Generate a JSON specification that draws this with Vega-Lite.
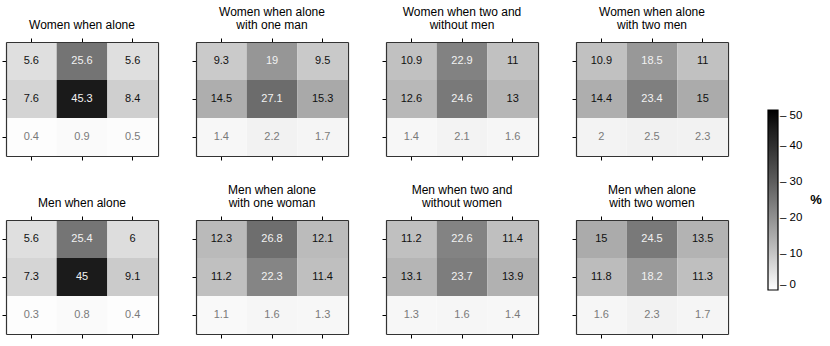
{
"$schema": "https://vega.github.io/schema/vega-lite/v6.json",
"padding": {"left": 1, "top": 5, "right": 0, "bottom": 0},
"background": "white",
"data": {"values": [
{"p":1,"c":1,"r":1,"v":5.6},{"p":1,"c":2,"r":1,"v":25.6},{"p":1,"c":3,"r":1,"v":5.6},
{"p":1,"c":1,"r":2,"v":7.6},{"p":1,"c":2,"r":2,"v":45.3},{"p":1,"c":3,"r":2,"v":8.4},
{"p":1,"c":1,"r":3,"v":0.4},{"p":1,"c":2,"r":3,"v":0.9},{"p":1,"c":3,"r":3,"v":0.5},
{"p":2,"c":1,"r":1,"v":9.3},{"p":2,"c":2,"r":1,"v":19},{"p":2,"c":3,"r":1,"v":9.5},
{"p":2,"c":1,"r":2,"v":14.5},{"p":2,"c":2,"r":2,"v":27.1},{"p":2,"c":3,"r":2,"v":15.3},
{"p":2,"c":1,"r":3,"v":1.4},{"p":2,"c":2,"r":3,"v":2.2},{"p":2,"c":3,"r":3,"v":1.7},
{"p":3,"c":1,"r":1,"v":10.9},{"p":3,"c":2,"r":1,"v":22.9},{"p":3,"c":3,"r":1,"v":11},
{"p":3,"c":1,"r":2,"v":12.6},{"p":3,"c":2,"r":2,"v":24.6},{"p":3,"c":3,"r":2,"v":13},
{"p":3,"c":1,"r":3,"v":1.4},{"p":3,"c":2,"r":3,"v":2.1},{"p":3,"c":3,"r":3,"v":1.6},
{"p":4,"c":1,"r":1,"v":10.9},{"p":4,"c":2,"r":1,"v":18.5},{"p":4,"c":3,"r":1,"v":11},
{"p":4,"c":1,"r":2,"v":14.4},{"p":4,"c":2,"r":2,"v":23.4},{"p":4,"c":3,"r":2,"v":15},
{"p":4,"c":1,"r":3,"v":2},{"p":4,"c":2,"r":3,"v":2.5},{"p":4,"c":3,"r":3,"v":2.3},
{"p":5,"c":1,"r":1,"v":5.6},{"p":5,"c":2,"r":1,"v":25.4},{"p":5,"c":3,"r":1,"v":6},
{"p":5,"c":1,"r":2,"v":7.3},{"p":5,"c":2,"r":2,"v":45},{"p":5,"c":3,"r":2,"v":9.1},
{"p":5,"c":1,"r":3,"v":0.3},{"p":5,"c":2,"r":3,"v":0.8},{"p":5,"c":3,"r":3,"v":0.4},
{"p":6,"c":1,"r":1,"v":12.3},{"p":6,"c":2,"r":1,"v":26.8},{"p":6,"c":3,"r":1,"v":12.1},
{"p":6,"c":1,"r":2,"v":11.2},{"p":6,"c":2,"r":2,"v":22.3},{"p":6,"c":3,"r":2,"v":11.4},
{"p":6,"c":1,"r":3,"v":1.1},{"p":6,"c":2,"r":3,"v":1.6},{"p":6,"c":3,"r":3,"v":1.3},
{"p":7,"c":1,"r":1,"v":11.2},{"p":7,"c":2,"r":1,"v":22.6},{"p":7,"c":3,"r":1,"v":11.4},
{"p":7,"c":1,"r":2,"v":13.1},{"p":7,"c":2,"r":2,"v":23.7},{"p":7,"c":3,"r":2,"v":13.9},
{"p":7,"c":1,"r":3,"v":1.3},{"p":7,"c":2,"r":3,"v":1.6},{"p":7,"c":3,"r":3,"v":1.4},
{"p":8,"c":1,"r":1,"v":15},{"p":8,"c":2,"r":1,"v":24.5},{"p":8,"c":3,"r":1,"v":13.5},
{"p":8,"c":1,"r":2,"v":11.8},{"p":8,"c":2,"r":2,"v":18.2},{"p":8,"c":3,"r":2,"v":11.3},
{"p":8,"c":1,"r":3,"v":1.6},{"p":8,"c":2,"r":3,"v":2.3},{"p":8,"c":3,"r":3,"v":1.7}
]},
"columns": 4,
"spacing": {"column": 33, "row": 22},
"resolve": {"scale": {"color": "shared"}, "legend": {"color": "shared"}},
"concat": [
{"title": {"text": ["Women when alone"]}, "width": 152, "height": 114, "transform": [{"filter": "datum.p == 1"}],
 "layer": [
  {"mark": "rect", "encoding": {"x": {"field": "c", "type": "ordinal", "title": null, "axis": {"orient": "top"}}, "y": {"field": "r", "type": "ordinal", "title": null, "axis": {"orient": "left"}}, "color": {"field": "v", "type": "quantitative", "title": "%", "scale": {"domain": [0, 50], "range": ["#ffffff", "#000000"]}, "legend": {"values": [0, 10, 20, 30, 40, 50], "labelBaseline": "middle", "labelExpr": "'\u2013 ' + datum.label", "encode": {"title": {"update": {"angle": {"value": 0}}}}}}}},
  {"mark": "text", "encoding": {"x": {"field": "c", "type": "ordinal", "title": null, "axis": {"orient": "bottom"}}, "y": {"field": "r", "type": "ordinal", "title": null, "axis": {"orient": "right", "ticks": false}}, "text": {"field": "v", "type": "quantitative"}, "color": {"condition": [{"test": "datum.v >= 17", "value": "#f2f2f2"}, {"test": "datum.v < 3", "value": "#7a7a7a"}], "value": "#111111"}}}
 ], "resolve": {"axis": {"x": "independent", "y": "independent"}}},
{"title": {"text": ["Women when alone", "with one man"]}, "width": 152, "height": 114, "transform": [{"filter": "datum.p == 2"}],
 "layer": [
  {"mark": "rect", "encoding": {"x": {"field": "c", "type": "ordinal", "title": null, "axis": {"orient": "top"}}, "y": {"field": "r", "type": "ordinal", "title": null, "axis": {"orient": "left"}}, "color": {"field": "v", "type": "quantitative", "title": "%", "scale": {"domain": [0, 50], "range": ["#ffffff", "#000000"]}, "legend": {"values": [0, 10, 20, 30, 40, 50], "labelBaseline": "middle", "labelExpr": "'\u2013 ' + datum.label", "encode": {"title": {"update": {"angle": {"value": 0}}}}}}}},
  {"mark": "text", "encoding": {"x": {"field": "c", "type": "ordinal", "title": null, "axis": {"orient": "bottom"}}, "y": {"field": "r", "type": "ordinal", "title": null, "axis": {"orient": "right", "ticks": false}}, "text": {"field": "v", "type": "quantitative"}, "color": {"condition": [{"test": "datum.v >= 17", "value": "#f2f2f2"}, {"test": "datum.v < 3", "value": "#7a7a7a"}], "value": "#111111"}}}
 ], "resolve": {"axis": {"x": "independent", "y": "independent"}}},
{"title": {"text": ["Women when two and", "without men"]}, "width": 152, "height": 114, "transform": [{"filter": "datum.p == 3"}],
 "layer": [
  {"mark": "rect", "encoding": {"x": {"field": "c", "type": "ordinal", "title": null, "axis": {"orient": "top"}}, "y": {"field": "r", "type": "ordinal", "title": null, "axis": {"orient": "left"}}, "color": {"field": "v", "type": "quantitative", "title": "%", "scale": {"domain": [0, 50], "range": ["#ffffff", "#000000"]}, "legend": {"values": [0, 10, 20, 30, 40, 50], "labelBaseline": "middle", "labelExpr": "'\u2013 ' + datum.label", "encode": {"title": {"update": {"angle": {"value": 0}}}}}}}},
  {"mark": "text", "encoding": {"x": {"field": "c", "type": "ordinal", "title": null, "axis": {"orient": "bottom"}}, "y": {"field": "r", "type": "ordinal", "title": null, "axis": {"orient": "right", "ticks": false}}, "text": {"field": "v", "type": "quantitative"}, "color": {"condition": [{"test": "datum.v >= 17", "value": "#f2f2f2"}, {"test": "datum.v < 3", "value": "#7a7a7a"}], "value": "#111111"}}}
 ], "resolve": {"axis": {"x": "independent", "y": "independent"}}},
{"title": {"text": ["Women when alone", "with two men"]}, "width": 152, "height": 114, "transform": [{"filter": "datum.p == 4"}],
 "layer": [
  {"mark": "rect", "encoding": {"x": {"field": "c", "type": "ordinal", "title": null, "axis": {"orient": "top"}}, "y": {"field": "r", "type": "ordinal", "title": null, "axis": {"orient": "left"}}, "color": {"field": "v", "type": "quantitative", "title": "%", "scale": {"domain": [0, 50], "range": ["#ffffff", "#000000"]}, "legend": {"values": [0, 10, 20, 30, 40, 50], "labelBaseline": "middle", "labelExpr": "'\u2013 ' + datum.label", "encode": {"title": {"update": {"angle": {"value": 0}}}}}}}},
  {"mark": "text", "encoding": {"x": {"field": "c", "type": "ordinal", "title": null, "axis": {"orient": "bottom"}}, "y": {"field": "r", "type": "ordinal", "title": null, "axis": {"orient": "right", "ticks": false}}, "text": {"field": "v", "type": "quantitative"}, "color": {"condition": [{"test": "datum.v >= 17", "value": "#f2f2f2"}, {"test": "datum.v < 3", "value": "#7a7a7a"}], "value": "#111111"}}}
 ], "resolve": {"axis": {"x": "independent", "y": "independent"}}},
{"title": {"text": ["Men when alone"]}, "width": 152, "height": 114, "transform": [{"filter": "datum.p == 5"}],
 "layer": [
  {"mark": "rect", "encoding": {"x": {"field": "c", "type": "ordinal", "title": null, "axis": {"orient": "top"}}, "y": {"field": "r", "type": "ordinal", "title": null, "axis": {"orient": "left"}}, "color": {"field": "v", "type": "quantitative", "title": "%", "scale": {"domain": [0, 50], "range": ["#ffffff", "#000000"]}, "legend": {"values": [0, 10, 20, 30, 40, 50], "labelBaseline": "middle", "labelExpr": "'\u2013 ' + datum.label", "encode": {"title": {"update": {"angle": {"value": 0}}}}}}}},
  {"mark": "text", "encoding": {"x": {"field": "c", "type": "ordinal", "title": null, "axis": {"orient": "bottom"}}, "y": {"field": "r", "type": "ordinal", "title": null, "axis": {"orient": "right", "ticks": false}}, "text": {"field": "v", "type": "quantitative"}, "color": {"condition": [{"test": "datum.v >= 17", "value": "#f2f2f2"}, {"test": "datum.v < 3", "value": "#7a7a7a"}], "value": "#111111"}}}
 ], "resolve": {"axis": {"x": "independent", "y": "independent"}}},
{"title": {"text": ["Men when alone", "with one woman"]}, "width": 152, "height": 114, "transform": [{"filter": "datum.p == 6"}],
 "layer": [
  {"mark": "rect", "encoding": {"x": {"field": "c", "type": "ordinal", "title": null, "axis": {"orient": "top"}}, "y": {"field": "r", "type": "ordinal", "title": null, "axis": {"orient": "left"}}, "color": {"field": "v", "type": "quantitative", "title": "%", "scale": {"domain": [0, 50], "range": ["#ffffff", "#000000"]}, "legend": {"values": [0, 10, 20, 30, 40, 50], "labelBaseline": "middle", "labelExpr": "'\u2013 ' + datum.label", "encode": {"title": {"update": {"angle": {"value": 0}}}}}}}},
  {"mark": "text", "encoding": {"x": {"field": "c", "type": "ordinal", "title": null, "axis": {"orient": "bottom"}}, "y": {"field": "r", "type": "ordinal", "title": null, "axis": {"orient": "right", "ticks": false}}, "text": {"field": "v", "type": "quantitative"}, "color": {"condition": [{"test": "datum.v >= 17", "value": "#f2f2f2"}, {"test": "datum.v < 3", "value": "#7a7a7a"}], "value": "#111111"}}}
 ], "resolve": {"axis": {"x": "independent", "y": "independent"}}},
{"title": {"text": ["Men when two and", "without women"]}, "width": 152, "height": 114, "transform": [{"filter": "datum.p == 7"}],
 "layer": [
  {"mark": "rect", "encoding": {"x": {"field": "c", "type": "ordinal", "title": null, "axis": {"orient": "top"}}, "y": {"field": "r", "type": "ordinal", "title": null, "axis": {"orient": "left"}}, "color": {"field": "v", "type": "quantitative", "title": "%", "scale": {"domain": [0, 50], "range": ["#ffffff", "#000000"]}, "legend": {"values": [0, 10, 20, 30, 40, 50], "labelBaseline": "middle", "labelExpr": "'\u2013 ' + datum.label", "encode": {"title": {"update": {"angle": {"value": 0}}}}}}}},
  {"mark": "text", "encoding": {"x": {"field": "c", "type": "ordinal", "title": null, "axis": {"orient": "bottom"}}, "y": {"field": "r", "type": "ordinal", "title": null, "axis": {"orient": "right", "ticks": false}}, "text": {"field": "v", "type": "quantitative"}, "color": {"condition": [{"test": "datum.v >= 17", "value": "#f2f2f2"}, {"test": "datum.v < 3", "value": "#7a7a7a"}], "value": "#111111"}}}
 ], "resolve": {"axis": {"x": "independent", "y": "independent"}}},
{"title": {"text": ["Men when alone", "with two women"]}, "width": 152, "height": 114, "transform": [{"filter": "datum.p == 8"}],
 "layer": [
  {"mark": "rect", "encoding": {"x": {"field": "c", "type": "ordinal", "title": null, "axis": {"orient": "top"}}, "y": {"field": "r", "type": "ordinal", "title": null, "axis": {"orient": "left"}}, "color": {"field": "v", "type": "quantitative", "title": "%", "scale": {"domain": [0, 50], "range": ["#ffffff", "#000000"]}, "legend": {"values": [0, 10, 20, 30, 40, 50], "labelBaseline": "middle", "labelExpr": "'\u2013 ' + datum.label", "encode": {"title": {"update": {"angle": {"value": 0}}}}}}}},
  {"mark": "text", "encoding": {"x": {"field": "c", "type": "ordinal", "title": null, "axis": {"orient": "bottom"}}, "y": {"field": "r", "type": "ordinal", "title": null, "axis": {"orient": "right", "ticks": false}}, "text": {"field": "v", "type": "quantitative"}, "color": {"condition": [{"test": "datum.v >= 17", "value": "#f2f2f2"}, {"test": "datum.v < 3", "value": "#7a7a7a"}], "value": "#111111"}}}
 ], "resolve": {"axis": {"x": "independent", "y": "independent"}}}
],
"config": {
 "font": "Liberation Sans",
 "view": {"stroke": null},
 "axis": {"labels": false, "domain": true, "domainColor": "#333333", "domainWidth": 1.2, "grid": false, "ticks": true, "tickSize": 4, "tickColor": "#000000", "tickWidth": 1, "minExtent": 0, "maxExtent": 4, "labelPadding": 0},
 "title": {"font": "Liberation Sans", "fontSize": 12, "fontWeight": "normal", "color": "#000000", "offset": 6, "lineHeight": 13},
 "text": {"font": "Liberation Sans", "fontSize": 11},
 "legend": {"orient": "none", "legendX": 762, "legendY": 68, "gradientLength": 180, "gradientThickness": 10, "gradientStrokeColor": "#000000", "gradientStrokeWidth": 1.2, "titleOrient": "right", "titleAnchor": "middle", "titleBaseline": "middle", "titleFont": "Liberation Sans", "titleFontSize": 13, "titleFontWeight": "bold", "titleColor": "#000000", "labelFont": "Liberation Sans", "labelFontSize": 11.5, "labelColor": "#000000", "labelOffset": 1, "labelBaseline": "middle", "titlePadding": 14, "direction": "vertical"}
}
}
